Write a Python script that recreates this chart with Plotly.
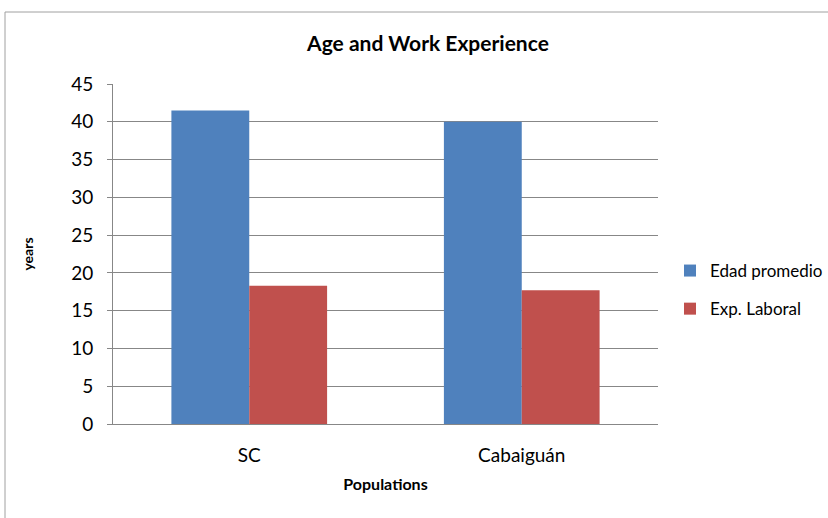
import plotly.graph_objects as go

categories = ["SC", "Cabaiguán"]
edad_promedio = [41.5, 40.0]
exp_laboral = [18.3, 17.7]
y_ticks = [0, 5, 10, 15, 20, 25, 30, 35, 40, 45]

FONT = "Lato"

fig = go.Figure()
fig.add_trace(go.Bar(name="Edad promedio", x=categories, y=edad_promedio, legendgroup="a",
                     marker=dict(color="#4F81BD", line=dict(width=0))))
fig.add_trace(go.Bar(name="Exp. Laboral", x=categories, y=exp_laboral, legendgroup="b",
                     marker=dict(color="#C0504D", line=dict(width=0))))

L, R, T, B = 113, 170, 84, 94
W, H = 828, 518
pw = W - L - R
ph = H - T - B

fig.update_layout(
    width=W, height=H,
    margin=dict(l=L, r=R, t=T, b=B, autoexpand=False),
    paper_bgcolor="white", plot_bgcolor="white",
    barmode="group", bargap=0.4286, bargroupgap=0,
    font=dict(family=FONT, color="#000000"),
    title=dict(text="<b>Age and Work Experience</b>", x=428 / W, xref="container",
               xanchor="center", y=1 - 44 / H, yanchor="middle",
               font=dict(size=21, family=FONT)),
    xaxis=dict(
        showline=True, linecolor="#878787", linewidth=1,
        tickfont=dict(size=19, family=FONT), ticklabelstandoff=14,
        title=dict(text="<b>Populations</b>", font=dict(size=16, family=FONT), standoff=14),
        ticks="", showgrid=False,
    ),
    yaxis=dict(
        range=[0, 45], tickvals=y_ticks, ticktext=[str(v) for v in y_ticks],
        showgrid=True, gridcolor="#878787", gridwidth=1,
        showline=True, linecolor="#878787", linewidth=1,
        ticks="outside", ticklen=5, tickcolor="#878787", ticklabelstandoff=10,
        tickfont=dict(size=19, family=FONT),
        title=dict(text="<b>years</b>", font=dict(size=14, family=FONT), standoff=34),
        zeroline=False,
    ),
    legend=dict(x=670 / W, xref="container", xanchor="left",
                y=(H - 290) / H, yref="container", yanchor="middle",
                font=dict(size=17, family=FONT), tracegroupgap=13, itemwidth=30,
                bgcolor="rgba(0,0,0,0)"),
    shapes=[dict(type="rect", xref="paper", yref="paper",
                 x0=(5 - L) / pw, x1=1.5, y0=-0.5, y1=(H - B - 12) / ph,
                 line=dict(color="#A0A0A0", width=1), fillcolor="rgba(0,0,0,0)",
                 layer="below")],
)

fig.write_html(
    "out.html",
    config={"displayModeBar": False},
    post_script="document.body.style.margin='0';document.body.style.overflow='hidden';",
)
